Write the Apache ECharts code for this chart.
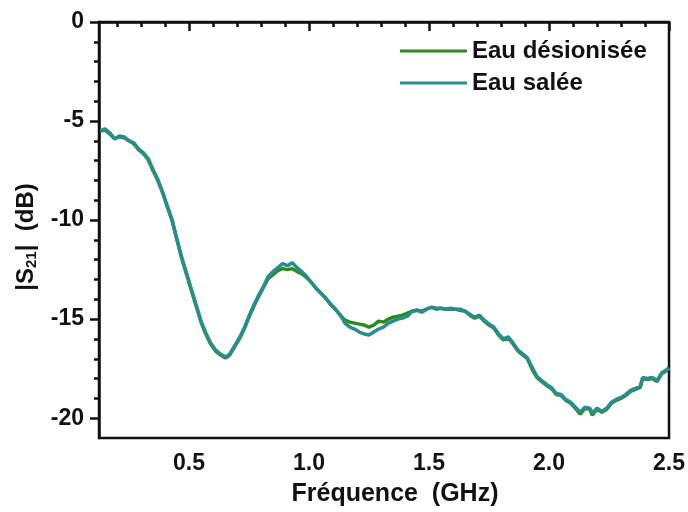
<!DOCTYPE html>
<html>
<head>
<meta charset="utf-8">
<script src="https://cdn.jsdelivr.net/npm/echarts@6/dist/echarts.min.js"></script>
<style>html,body{margin:0;padding:0;background:#fff}#c{width:688px;height:512px}</style>
</head>
<body>
<div id="c"></div>
<script>
const seriesNames = ['Eau désionisée', 'Eau salée'];
const freq = [
  0.13,0.15,0.17,0.19,0.21,0.23,0.25,0.27,0.29,0.31,
  0.33,0.35,0.37,0.39,0.41,0.43,0.45,0.47,0.49,0.51,
  0.53,0.55,0.57,0.59,0.61,0.63,0.65,0.66,0.67,0.69,
  0.71,0.73,0.75,0.77,0.79,0.81,0.83,0.85,0.87,0.89,
  0.91,0.93,0.95,0.97,0.99,1.01,1.03,1.05,1.07,1.09,
  1.11,1.13,1.15,1.17,1.19,1.21,1.23,1.25,1.27,1.29,
  1.31,1.33,1.35,1.37,1.39,1.41,1.43,1.45,1.47,1.49,
  1.51,1.53,1.55,1.57,1.59,1.61,1.63,1.65,1.67,1.69,
  1.71,1.73,1.75,1.77,1.79,1.81,1.83,1.85,1.87,1.89,
  1.91,1.93,1.95,1.97,1.99,2.01,2.03,2.05,2.07,2.09,
  2.11,2.13,2.15,2.17,2.18,2.20,2.22,2.24,2.26,2.28,
  2.30,2.32,2.34,2.36,2.38,2.39,2.41,2.43,2.45,2.47,
  2.49,2.50
];
const deion = [
  -5.5,-5.45,-5.65,-5.9,-5.8,-5.85,-6.0,-6.15,-6.45,-6.65,
  -6.95,-7.5,-8.0,-8.6,-9.35,-10.05,-11.0,-11.95,-12.75,-13.55,
  -14.35,-15.15,-15.75,-16.25,-16.6,-16.8,-16.95,-16.9,-16.8,-16.4,
  -16.0,-15.5,-14.9,-14.35,-13.85,-13.4,-12.95,-12.75,-12.55,-12.45,
  -12.5,-12.45,-12.6,-12.7,-12.9,-13.15,-13.45,-13.7,-13.95,-14.25,
  -14.5,-14.8,-15.05,-15.15,-15.2,-15.25,-15.3,-15.4,-15.3,-15.1,
  -15.15,-15.0,-14.9,-14.85,-14.8,-14.7,-14.6,-14.55,-14.6,-14.5,
  -14.4,-14.45,-14.45,-14.5,-14.5,-14.5,-14.55,-14.6,-14.8,-14.95,
  -14.85,-15.1,-15.3,-15.45,-15.8,-16.05,-15.95,-16.25,-16.6,-16.8,
  -17.0,-17.55,-17.95,-18.15,-18.35,-18.5,-18.8,-18.85,-19.1,-19.25,
  -19.5,-19.8,-19.5,-19.55,-19.85,-19.55,-19.7,-19.55,-19.25,-19.1,
  -19.0,-18.85,-18.65,-18.55,-18.45,-18.0,-18.05,-18.0,-18.15,-17.75,
  -17.6,-17.5
];
const salee = [
  -5.5,-5.4,-5.6,-5.9,-5.75,-5.8,-6.0,-6.1,-6.4,-6.6,
  -6.9,-7.45,-7.95,-8.6,-9.3,-10.0,-11.0,-11.9,-12.7,-13.5,
  -14.3,-15.1,-15.7,-16.2,-16.55,-16.75,-16.9,-16.85,-16.75,-16.35,
  -15.95,-15.45,-14.85,-14.3,-13.8,-13.35,-12.85,-12.6,-12.4,-12.2,
  -12.3,-12.15,-12.4,-12.6,-12.85,-13.15,-13.45,-13.7,-13.95,-14.25,
  -14.5,-14.8,-15.2,-15.4,-15.5,-15.65,-15.75,-15.8,-15.65,-15.5,
  -15.4,-15.2,-15.1,-15.0,-14.95,-14.85,-14.6,-14.55,-14.65,-14.5,
  -14.4,-14.5,-14.45,-14.5,-14.45,-14.5,-14.5,-14.6,-14.75,-14.9,
  -14.8,-15.05,-15.25,-15.4,-15.75,-16.0,-15.9,-16.2,-16.55,-16.75,
  -16.95,-17.45,-17.9,-18.1,-18.3,-18.45,-18.75,-18.8,-19.05,-19.2,
  -19.45,-19.7,-19.45,-19.5,-19.75,-19.5,-19.65,-19.5,-19.2,-19.05,
  -18.95,-18.8,-18.6,-18.5,-18.4,-17.95,-18.0,-17.95,-18.1,-17.7,
  -17.55,-17.45
];
const xMajorTicks = [0.5, 1.0, 1.5, 2.0, 2.5];
const xMinorTicks = [0.2,0.3,0.4,0.6,0.7,0.8,0.9,1.1,1.2,1.3,1.4,1.6,1.7,1.8,1.9,2.1,2.2,2.3,2.4];
const yMajorTicks = [-20, -15, -10, -5, 0];
const yMinorTicks = [-19,-18,-17,-16,-14,-13,-12,-11,-9,-8,-7,-6,-4,-3,-2,-1];
const xRange = [0.125, 2.5];
const yRange = [-21, 0];

const FONT = 'Liberation Sans';
const black = '#111';
const chart = echarts.init(document.getElementById('c'), null, {renderer: 'canvas'});
const pairs = (vals) => freq.map((f, i) => [f, vals[i]]);

chart.setOption({
  animation: false,
  backgroundColor: '#fff',
  grid: {left: 99, right: 18, top: 22, bottom: 72, show: true, borderColor: black, borderWidth: 2.5, backgroundColor: 'transparent'},
  legend: {
    orient: 'vertical', left: 395, top: 34, icon: 'rect', itemWidth: 67, itemHeight: 3, itemGap: 8,
    data: seriesNames,
    textStyle: {fontFamily: FONT, fontWeight: 'bold', fontSize: 24, color: black}
  },
  xAxis: [{
    type: 'value', min: xRange[0], max: xRange[1], position: 'bottom',
    axisLine: {show: true, lineStyle: {color: black, width: 2.5}},
    axisTick: {show: true, customValues: xMajorTicks, length: 9, lineStyle: {color: black, width: 2.5}},
    axisLabel: {customValues: xMajorTicks, formatter: v => v.toFixed(1), fontFamily: FONT, fontWeight: 'bold', fontSize: 23, color: black, margin: 14},
    splitLine: {show: false},
    name: 'Fréquence  (GHz)', nameLocation: 'middle', nameGap: 44,
    nameTextStyle: {fontFamily: FONT, fontWeight: 'bold', fontSize: 25, color: black, padding: [0, 0, 0, 22]}
  }, {
    type: 'value', min: xRange[0], max: xRange[1], position: 'bottom',
    axisLine: {show: false},
    axisTick: {show: true, customValues: xMinorTicks, length: 5, lineStyle: {color: black, width: 2.5}},
    axisLabel: {show: false}, splitLine: {show: false}
  }],
  yAxis: [{
    type: 'value', min: yRange[0], max: yRange[1], position: 'left',
    axisLine: {show: true, lineStyle: {color: black, width: 2.5}},
    axisTick: {show: true, customValues: yMajorTicks, length: 9, lineStyle: {color: black, width: 2.5}},
    axisLabel: {customValues: yMajorTicks, fontFamily: FONT, fontWeight: 'bold', fontSize: 23, color: black, margin: 15},
    splitLine: {show: false},
    name: '|S{sub|21}|  (dB)', nameLocation: 'middle', nameGap: 57,
    nameTextStyle: {fontFamily: FONT, fontWeight: 'bold', fontSize: 24, color: black, padding: [0, 14, 0, 0],
      rich: {sub: {fontFamily: FONT, fontWeight: 'bold', fontSize: 15, color: black, padding: [11, 0, 0, 0]}}}
  }, {
    type: 'value', min: yRange[0], max: yRange[1], position: 'left',
    axisLine: {show: false},
    axisTick: {show: true, customValues: yMinorTicks, length: 5, lineStyle: {color: black, width: 2.5}},
    axisLabel: {show: false}, splitLine: {show: false}
  }],
  series: [{
    name: seriesNames[0], type: 'line', data: pairs(deion), showSymbol: false, symbol: 'none',
    lineStyle: {color: '#2a8a1e', width: 3.5}, itemStyle: {color: '#2a8a1e'}, z: 2
  }, {
    name: seriesNames[1], type: 'line', data: pairs(salee), showSymbol: false, symbol: 'none',
    lineStyle: {color: '#2a8c8c', width: 3.5}, itemStyle: {color: '#2a8c8c'}, z: 3
  }]
});
</script>
</body>
</html>
